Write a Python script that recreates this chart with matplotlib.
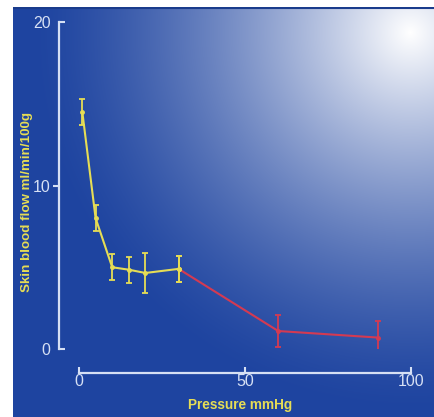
import numpy as np
import matplotlib
matplotlib.use("Agg")
import matplotlib.pyplot as plt

# data
pressure = [1, 5, 10, 15, 20, 30, 60, 90]
flow = [14.5, 8.0, 5.0, 4.85, 4.65, 4.9, 1.1, 0.7]
flow_err = [0.8, 0.8, 0.8, 0.8, 1.2, 0.8, 1.0, 1.0]
n_yellow = 6  # first six points drawn yellow, the rest red (joined at 30 mmHg)

yellow = "#e6dd55"
red = "#d43a52"
axis_col = "#d6e0f4"
plt.rcParams["font.family"] = ["Liberation Sans", "DejaVu Sans"]

fig = plt.figure(figsize=(4.35, 4.17), dpi=100)
fig.patch.set_facecolor("white")

# blue panel with a white glow at top right
bg = fig.add_axes([13 / 435, 0, 1 - 13 / 435, 1 - 7 / 417])
W, H = 422, 410
xx, yy = np.meshgrid(np.arange(W), np.arange(H))
r = np.hypot(xx - 397, yy - 25)
w = np.clip(1 - r / 380, 0, 1) ** 1.45
base = np.array([30, 68, 160]) / 255
img = base[None, None, :] * (1 - w[..., None]) + np.ones(3)[None, None, :] * w[..., None]
bg.imshow(img, aspect="auto", extent=[0, W, H, 0])
bg.axhline(0.5, color="#1a3c8c", lw=1.5)
bg.set_axis_off()

ax = fig.add_axes([79 / 435, 1 - 349 / 417, 332 / 435, 327 / 417])
ax.patch.set_alpha(0)

ax.errorbar(pressure[:n_yellow], flow[:n_yellow], yerr=flow_err[:n_yellow],
            color=yellow, lw=1.5, capsize=2.5, capthick=1.3, elinewidth=1.3,
            marker="o", ms=2.5, zorder=3)
ax.errorbar(pressure[n_yellow - 1:], flow[n_yellow - 1:], yerr=flow_err[n_yellow - 1:],
            color=red, lw=1.5, capsize=2.5, capthick=1.3, elinewidth=1.3,
            marker="o", ms=2.5, zorder=2)
# keep the 30 mmHg point yellow on top
ax.errorbar(pressure[n_yellow - 1:n_yellow], flow[n_yellow - 1:n_yellow],
            yerr=flow_err[n_yellow - 1:n_yellow], color=yellow, lw=1.5, capsize=2.5,
            capthick=1.3, elinewidth=1.3, marker="o", ms=2.5, zorder=4)

ax.set_xlim(0, 100)
ax.set_ylim(0, 20)
for s in ["top", "right"]:
    ax.spines[s].set_visible(False)
ax.spines["left"].set_position(("outward", 14.4))
ax.spines["bottom"].set_position(("outward", 17.3))
ax.spines["left"].set_bounds(0, 20)
ax.spines["bottom"].set_bounds(0, 100)
for s in ["left", "bottom"]:
    ax.spines[s].set_color(axis_col)
    ax.spines[s].set_linewidth(1.6)

ax.set_xticks([0, 50, 100])
ax.tick_params(axis="x", direction="in", length=4, width=1.5, color=axis_col,
               labelcolor=axis_col, labelsize=11.5, pad=1)
ax.set_yticks([10])
ax.set_yticks([0, 20], labels=["0", "20"], minor=True)
ax.tick_params(axis="y", which="major", direction="out", length=4, width=1.5,
               color=axis_col, labelcolor=axis_col, labelsize=11.5, pad=2)
ax.tick_params(axis="y", which="minor", direction="in", length=4, width=1.5,
               color=axis_col, labelcolor=axis_col, labelsize=11.5, pad=6)

ax.set_xlabel("Pressure mmHg", color=yellow, fontsize=9.8, fontweight="bold")
ax.xaxis.set_label_coords((240 - 79) / 332, -(398 - 349) / 327)
ax.set_ylabel("Skin blood flow ml/min/100g", color=yellow, fontsize=9.6,
              fontweight="bold")
ax.yaxis.set_label_coords(-(79 - 33) / 332, (349 - 202) / 327)

fig.savefig("out.png", dpi=100)
